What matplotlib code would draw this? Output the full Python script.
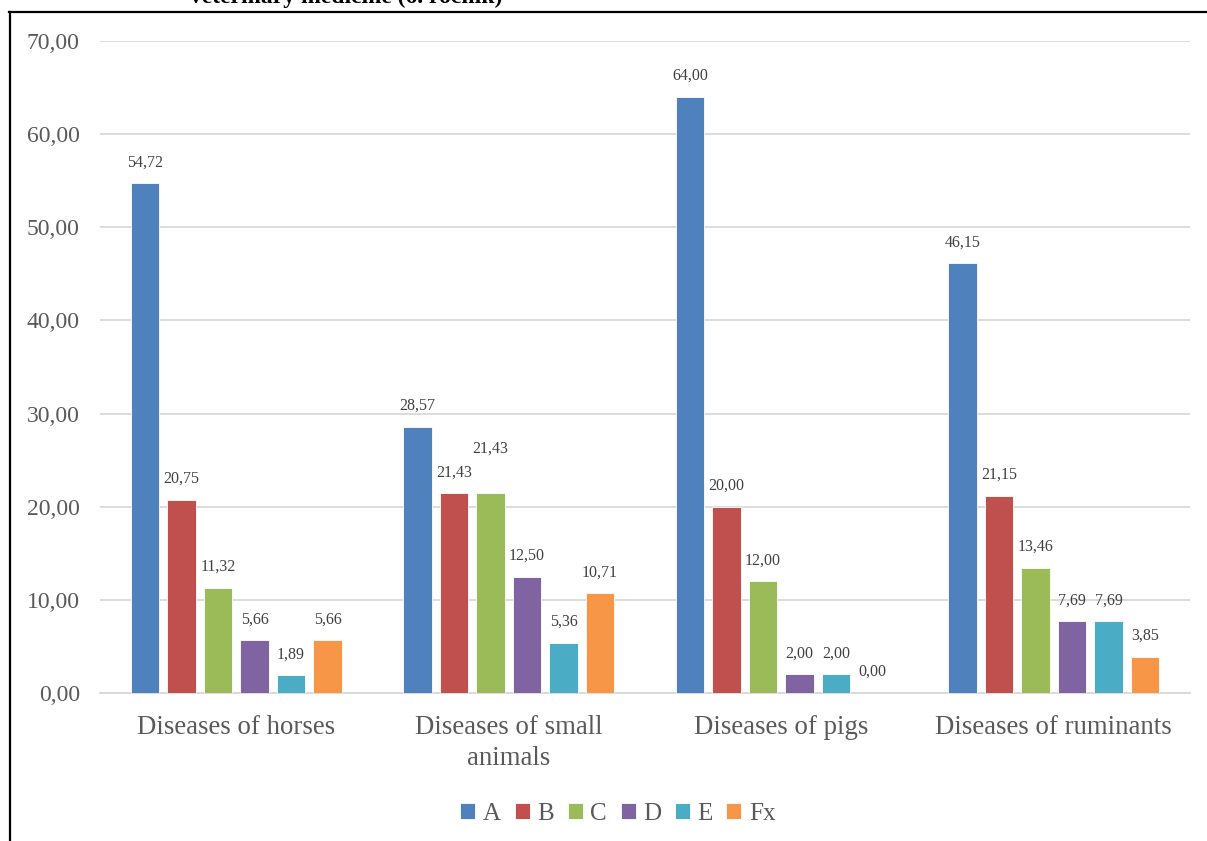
import numpy as np
import matplotlib
matplotlib.use("Agg")
from matplotlib import pyplot as plt
from matplotlib.lines import Line2D

# donnees du graphique
categories = ["Diseases of horses", "Diseases of small\nanimals", "Diseases of pigs", "Diseases of ruminants"]
series = ["A", "B", "C", "D", "E", "Fx"]
val_A = [54.72, 28.57, 64.00, 46.15]
val_B = [20.75, 21.43, 20.00, 21.15]
val_C = [11.32, 21.43, 12.00, 13.46]
val_D = [5.66, 12.50, 2.00, 7.69]
val_E = [1.89, 5.36, 2.00, 7.69]
val_F = [5.66, 10.71, 0.00, 3.85]
couleurs = ["#4F81BD", "#C0504D", "#9BBB59", "#8064A2", "#4BACC6", "#F79646"]
yticks = [0, 10, 20, 30, 40, 50, 60, 70]

valeurs = [val_A, val_B, val_C, val_D, val_E, val_F]
gris = "#595959"
plt.rcParams['font.family'] = ['Liberation Serif', 'DejaVu Serif']

# etiquette decalee vers le haut (comme dans Excel) : (serie, categorie) -> pixels
decalage = {(2, 1): 24}

fig = plt.figure(figsize=(12.07, 8.41), dpi=100)
ax = fig.add_axes([100 / 1207, 1 - 693 / 841, 1090 / 1207, 652 / 841])

x = np.arange(len(categories))
slot = 0.134
larg = 0.106
for i, (nom, v) in enumerate(zip(series, valeurs)):
    pos = x + (i - 2.5) * slot
    bars = ax.bar(pos, v, width=larg, color=couleurs[i], edgecolor="white", linewidth=0.6, label=nom, zorder=3)
    for j, (b, val) in enumerate(zip(bars, v)):
        ax.annotate(f"{val:.2f}".replace(".", ","), (b.get_x() + b.get_width() / 2, val),
                    xytext=(0, 13 + decalage.get((i, j), 0)), textcoords="offset pixels",
                    ha="center", va="bottom", fontsize=11.5, color="#404040")

ax.set_xlim(-0.5, len(categories) - 0.5)
ax.set_ylim(0, 70)
ax.set_yticks(yticks)
ax.set_yticklabels([f"{t:.2f}".replace(".", ",") for t in yticks], fontsize=17, color=gris)
ax.set_xticks(x)
ax.set_xticklabels(categories, fontsize=19.3, color=gris, linespacing=1.3)
ax.tick_params(axis="both", length=0)
ax.tick_params(axis="y", pad=14.5)
ax.tick_params(axis="x", pad=16)
ax.grid(axis="y", color="#D9D9D9", linewidth=1.3, zorder=0)
for s in ["top", "right", "left"]:
    ax.spines[s].set_visible(False)
ax.spines["bottom"].set_color("#D9D9D9")
ax.spines["bottom"].set_linewidth(1.3)

leg = fig.legend(loc="center", bbox_to_anchor=(618 / 1207, 1 - 814 / 841), ncol=6, frameon=False,
                 fontsize=18, handlelength=0.6, handleheight=0.6, handletextpad=0.3, columnspacing=0.55)
for t in leg.get_texts():
    t.set_color(gris)

# cadre et titre coupe
fig.add_artist(Line2D([10 / 1207, 10 / 1207], [0, 1 - 12 / 841], color="black", linewidth=1.6, transform=fig.transFigure))
fig.add_artist(Line2D([9 / 1207, 1], [1 - 12 / 841, 1 - 12 / 841], color="black", linewidth=1.6, transform=fig.transFigure))
fig.text(190 / 1207, 1 - 3 / 841, "veterinary medicine (6. ročník)", fontsize=17, fontweight="bold",
         ha="left", va="baseline", color="black")

fig.savefig("out.png", dpi=100)
